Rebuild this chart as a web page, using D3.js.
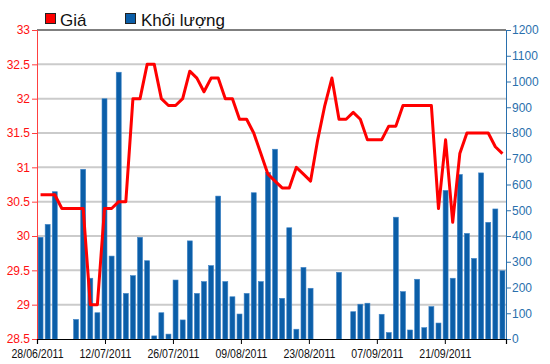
<!DOCTYPE html>
<html><head><meta charset="utf-8">
<script src="https://cdn.jsdelivr.net/npm/d3@7"></script>
<style>body{margin:0;background:#fff}svg{display:block}text{font-family:"Liberation Sans",Arial,sans-serif}</style>
</head><body>
<svg id="c" width="550" height="364"></svg>
<script>
const dates = ["28/06/2011","29/06/2011","30/06/2011","01/07/2011","04/07/2011","05/07/2011","06/07/2011","07/07/2011","08/07/2011","11/07/2011",
"12/07/2011","13/07/2011","14/07/2011","15/07/2011","18/07/2011","19/07/2011","20/07/2011","21/07/2011","22/07/2011","25/07/2011",
"26/07/2011","27/07/2011","28/07/2011","29/07/2011","01/08/2011","02/08/2011","03/08/2011","04/08/2011","05/08/2011","08/08/2011",
"09/08/2011","10/08/2011","11/08/2011","12/08/2011","15/08/2011","16/08/2011","17/08/2011","18/08/2011","19/08/2011","22/08/2011",
"23/08/2011","24/08/2011","25/08/2011","26/08/2011","29/08/2011","30/08/2011","31/08/2011","01/09/2011","05/09/2011","06/09/2011",
"07/09/2011","08/09/2011","09/09/2011","12/09/2011","13/09/2011","14/09/2011","15/09/2011","16/09/2011","19/09/2011","20/09/2011",
"21/09/2011","22/09/2011","23/09/2011","26/09/2011","27/09/2011","28/09/2011"];
const price = [30.6,30.6,30.6,30.4,30.4,30.4,30.4,29.0,29.0,30.4,
30.4,30.5,30.5,32.0,32.0,32.5,32.5,32.0,31.9,31.9,
32.0,32.4,32.3,32.1,32.3,32.3,32.0,32.0,31.7,31.7,
31.5,31.2,30.9,30.8,30.7,30.7,31.0,30.9,30.8,31.4,
31.9,32.3,31.7,31.7,31.8,31.7,31.4,31.4,31.4,31.6,
31.6,31.9,31.9,31.9,31.9,31.9,30.4,31.4,30.2,31.2,
31.5,31.5,31.5,31.5,31.3,31.2];
const volume = [395,445,572,0,0,76,659,236,102,933,
322,1036,177,246,395,304,12,102,19,229,
74,381,177,223,285,555,223,164,97,177,
568,223,647,737,158,432,38,278,197,0,
0,0,259,0,106,135,139,0,96,25,
473,184,35,232,44,126,62,577,236,639,
410,313,645,453,505,265];
const tickLabels = ["28/06/2011","12/07/2011","26/07/2011","09/08/2011","23/08/2011","07/09/2011","21/09/2011"];
const priceTicks = [28.5,29,29.5,30,30.5,31,31.5,32,32.5,33];
const volumeTicks = [0,100,200,300,400,500,600,700,800,900,1000,1100,1200];
const legendItems = ["Giá","Khối lượng"];

const svg = d3.select("#c");
const L = 37, R = 506, T = 30, B = 339;
const red = "#ff0000", blue = "#0b5ea8", axisBlue = "#2a70ad";

const x = d3.scaleBand().domain(dates).range([L, R]).paddingInner(0.3).paddingOuter(0.15);
const xLab = d3.scaleLinear().domain([0, 69]).range([L, R]);
const yP = d3.scaleLinear().domain([28.5, 33]).range([B, T]);
const yV = d3.scaleLinear().domain([0, 1200]).range([B, T]);

// gridlines
svg.append("g").selectAll("line").data(priceTicks.filter(t => t > 28.5 && t < 33)).join("line")
  .attr("x1", L).attr("x2", R).attr("y1", d => yP(d)).attr("y2", d => yP(d))
  .attr("stroke", "#cbcbcb").attr("stroke-width", 2);

// bars
svg.append("g").selectAll("rect").data(dates.map((d, i) => ({d, v: volume[i]})).filter(o => o.v > 0)).join("rect")
  .attr("x", o => x(o.d)).attr("width", x.bandwidth())
  .attr("y", o => yV(o.v)).attr("height", o => B - yV(o.v))
  .attr("fill", blue).attr("stroke", "#3f84c6").attr("stroke-width", 0.6);

// price line
svg.append("path").datum(price)
  .attr("d", d3.line().x((v, i) => x(dates[i]) + x.bandwidth() / 2).y(v => yP(v)))
  .attr("fill", "none").attr("stroke", red).attr("stroke-width", 3).attr("stroke-linejoin", "round");

// top border
svg.append("line").attr("x1", L).attr("x2", R).attr("y1", T).attr("y2", T).attr("stroke", "#000").attr("stroke-width", 1.2);

// left axis
const gl = svg.append("g").attr("transform", `translate(${L},0)`)
  .call(d3.axisLeft(yP).tickValues(priceTicks).tickSize(5).tickPadding(2).tickFormat(d => String(d)));
gl.select(".domain").attr("stroke", "#ff4040");
gl.selectAll(".tick line").attr("stroke", "#ff4040");
gl.selectAll("text").attr("fill", "#ff1010").style("font-size", "12px");

// right axis
const gr = svg.append("g").attr("transform", `translate(${R},0)`)
  .call(d3.axisRight(yV).tickValues(volumeTicks).tickSize(5).tickPadding(1).tickFormat(d => String(d)));
gr.select(".domain").attr("stroke", axisBlue);
gr.selectAll(".tick line").attr("stroke", axisBlue);
gr.selectAll("text").attr("fill", axisBlue).style("font-size", "12px");

// bottom axis
const gb = svg.append("g").attr("transform", `translate(0,${B})`)
  .call(d3.axisBottom(xLab).tickValues(tickLabels.map(l => dates.indexOf(l))).tickSize(5).tickPadding(5)
    .tickFormat(i => dates[i]));
gb.select(".domain").attr("stroke", "#000").attr("stroke-width", 1.2);
gb.selectAll(".tick line").attr("stroke", "#000");
gb.selectAll("text").attr("fill", "#111").style("font-size", "13px")
  .attr("textLength", 52).attr("lengthAdjust", "spacingAndGlyphs");

// legend
const leg = svg.append("g");
const lx = [45, 125], lc = [red, blue], tx = [60, 141];
legendItems.forEach((t, i) => {
  leg.append("rect").attr("x", lx[i] + 0.5).attr("y", 13.5).attr("width", 10).attr("height", 10)
    .attr("fill", lc[i]).attr("stroke", "#222").attr("stroke-width", 1);
  leg.append("text").attr("x", tx[i]).attr("y", 26).text(t).style("font-size", "17px").attr("fill", "#111");
});
</script>
</body></html>
